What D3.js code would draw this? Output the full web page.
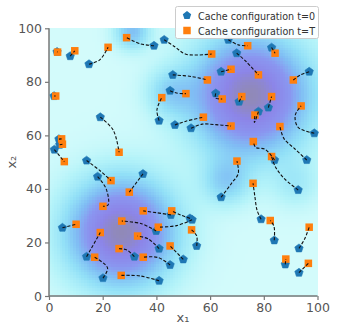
<!DOCTYPE html>
<html>
<head>
<meta charset="utf-8">
<script src="https://cdn.jsdelivr.net/npm/d3@7"></script>
<style>
  body { margin: 0; background: #fff; }
  text { font-family: "DejaVu Sans", sans-serif; }
</style>
</head>
<body>
<svg id="chart" width="339" height="326"></svg>
<script>
// start (t=0) and end (t=T) cache positions
const startX = [3.0, 7.9, 14.9, 39.1, 1.9, 19.1, 3.7, 4.0, 2.0, 14.0, 18.1, 35.0, 5.0, 14.0, 20.1, 31.8, 41.0, 39.9, 45.4, 52.5,
  53.3, 41.0, 50.0, 45.1, 55.0, 64.1, 92.8, 84.0, 79.0, 83.9, 93.1, 88.0, 93.1, 96.0, 98.8, 78.0, 81.7, 70.8, 96.9, 69.9,
  82.9, 66.8, 42.9, 46.1, 45.1, 41.0, 46.9, 52.9, 64.1, 62.1];
const startY = [91.2, 89.6, 86.6, 93.5, 74.7, 66.8, 58.6, 56.5, 54.7, 50.6, 44.6, 45.6, 25.5, 14.7, 6.7, 14.7, 5.7, 24.3, 30.3, 29.0,
  28.5, 17.7, 13.7, 11.6, 18.7, 36.9, 39.6, 50.8, 28.7, 20.8, 17.8, 11.8, 8.7, 50.8, 60.8, 68.9, 70.4, 72.6, 83.8, 90.7,
  92.8, 95.7, 95.7, 82.6, 76.7, 65.5, 63.9, 62.7, 83.8, 75.7];
const endX = [3.2, 9.6, 22.0, 28.9, 2.5, 26.1, 4.7, 5.0, 5.7, 23.1, 20.1, 29.9, 10.1, 19.1, 17.0, 26.1, 26.9, 27.1, 35.1, 45.7,
  40.7, 33.0, 45.1, 35.1, 53.1, 70.0, 82.9, 76.1, 76.0, 82.4, 96.9, 88.2, 96.6, 86.0, 93.9, 76.7, 82.9, 71.8, 91.0, 78.0,
  84.2, 74.0, 60.6, 59.0, 51.0, 42.0, 57.5, 67.8, 67.8, 64.5];
const endY = [91.1, 91.6, 92.9, 96.5, 74.7, 53.7, 58.7, 56.7, 50.2, 43.1, 33.5, 38.8, 26.8, 23.7, 14.5, 17.7, 7.7, 28.0, 31.8, 31.8,
  25.7, 22.4, 18.7, 14.5, 24.7, 50.4, 52.1, 57.7, 42.1, 28.2, 25.7, 13.8, 12.2, 63.3, 71.0, 67.6, 74.5, 74.5, 80.7, 82.6,
  90.7, 93.5, 90.4, 80.7, 75.6, 74.1, 66.8, 63.5, 84.7, 73.6];
// points the dashed paths bend through
const bends = [[], [], [[18.9, 88.2]], [[34.0, 94.2]], [], [[23.9, 62.0]], [], [], [], [[19.0, 46.8]],
  [[21.3, 40.0], [22.0, 34.0]], [], [], [], [[21.8, 10.5]], [[29.0, 17.2]], [[34.0, 7.5]], [[34.5, 27.0]], [[40.1, 31.1]], [[49.0, 30.3]],
  [[47.5, 26.3]], [[37.0, 21.3]], [], [[40.5, 14.4]], [[55.0, 22.5]], [[68.0, 42.1], [70.5, 45.8]], [[87.5, 44.0], [84.3, 48.3]],
  [[80.5, 54.8], [77.0, 55.5]], [[77.5, 32.0], [76.7, 37.0]], [[83.8, 26.0]], [[95.3, 21.5]], [], [],
  [[91.5, 55.0], [87.5, 58.8]], [[92.8, 63.0], [91.7, 67.5]], [[76.5, 64.8]], [], [], [[93.5, 82.5]], [[73.5, 87.5]],
  [], [[70.5, 93.8]], [[47.0, 93.0], [51.0, 90.3]], [[53.0, 82.0]], [[47.5, 75.8]], [[40.2, 69.5]], [[51.0, 65.3]],
  [[57.0, 64.2], [62.0, 64.0]], [], [[62.0, 74.0]]];

// demand hot spots behind the markers
const hotX = [27, 75, 31, 66, 45, 92];
const hotY = [24, 75, 99, 43, 76, 42];
const hotW = [1.0, 1.0, 0.4, 0.3, 0.25, 0.15];
const hotS = [13, 14.5, 4.5, 6, 6, 6];

const ticks = [0, 20, 40, 60, 80, 100];
const legendLabels = ["Cache configuration t=0", "Cache configuration t=T"];

const svg = d3.select("#chart");
const x = d3.scaleLinear().domain([0, 100]).range([49, 317.5]);
const y = d3.scaleLinear().domain([0, 100]).range([296, 28.3]);

function density(px, py) {
	let v = 0;
	for (let i = 0; i < hotX.length; i++) {
		const d2 = (px - hotX[i]) ** 2 + (py - hotY[i]) ** 2;
		v += hotW[i] * Math.exp(-d2 / (2 * hotS[i] * hotS[i]));
	}
	return Math.min(v, 1);
}

const color = d3.scaleLinear()
	.domain([0, 0.1, 0.25, 0.42, 0.6, 0.82, 1])
	.range(["#d3fbfb", "#b4f3f9", "#92e0f7", "#80bef4", "#8a96f0", "#8c85e8", "#9089b8"]);

const cells = [];
for (let i = 0; i < 100; i++) {
	for (let j = 0; j < 100; j++) {
		cells.push({ i: i, j: j, v: density(i + 0.5, j + 0.5) });
	}
}

svg.append("g")
	.attr("shape-rendering", "crispEdges")
	.selectAll("rect")
	.data(cells)
	.join("rect")
	.attr("x", d => x(d.i))
	.attr("y", d => y(d.j + 1))
	.attr("width", x(1) - x(0) + 0.5)
	.attr("height", y(0) - y(1) + 0.5)
	.attr("fill", d => color(d.v));

// axes
const axisColor = "#555";
const xAxis = svg.append("g")
	.attr("transform", `translate(0,${y(0)})`)
	.call(d3.axisBottom(x).tickValues(ticks).tickSize(4).tickPadding(3));
const yAxis = svg.append("g")
	.attr("transform", `translate(${x(0)},0)`)
	.call(d3.axisLeft(y).tickValues(ticks).tickSize(4).tickPadding(3));

for (let ax of [xAxis, yAxis]) {
	ax.select(".domain").attr("stroke", "#777").attr("stroke-width", 1.5);
	ax.selectAll(".tick line").attr("stroke", "#777").attr("stroke-width", 1.2);
	ax.selectAll(".tick text")
		.attr("fill", axisColor)
		.style("font-size", "12.5px")
		.style("font-family", "DejaVu Sans, sans-serif");
}
xAxis.select(".domain").attr("d", `M${x(0)},0H${x(100)}`);
yAxis.select(".domain").attr("d", `M0,${y(0)}V${y(100)}`);

svg.append("text")
	.attr("x", 183).attr("y", 322)
	.attr("text-anchor", "middle")
	.attr("fill", axisColor)
	.style("font-size", "13px")
	.text("x₁");
svg.append("text")
	.attr("transform", `translate(16,${y(50)}) rotate(-90)`)
	.attr("text-anchor", "middle")
	.attr("fill", axisColor)
	.style("font-size", "13px")
	.text("x₂");

// markers
function pentPath(r) {
	const pts = d3.range(5).map(k => {
		const a = -Math.PI / 2 + k * 2 * Math.PI / 5;
		return [r * Math.cos(a), r * Math.sin(a)];
	});
	return "M" + pts.join("L") + "Z";
}

svg.append("g").selectAll("path")
	.data(d3.range(startX.length))
	.join("path")
	.attr("d", pentPath(4.4))
	.attr("transform", i => `translate(${x(startX[i])},${y(startY[i])})`)
	.attr("fill", "#1f77b4")
	.attr("stroke", "#1f77b4")
	.attr("stroke-width", 0.6);

const sq = 7.5;
svg.append("g").selectAll("rect")
	.data(d3.range(endX.length))
	.join("rect")
	.attr("x", i => x(endX[i]) - sq / 2)
	.attr("y", i => y(endY[i]) - sq / 2)
	.attr("width", sq)
	.attr("height", sq)
	.attr("fill", "#ff7f0e");

const line = d3.line()
	.x(d => x(d[0]))
	.y(d => y(d[1]))
	.curve(d3.curveCatmullRom.alpha(0.5));

svg.append("g").selectAll("path")
	.data(d3.range(startX.length))
	.join("path")
	.attr("d", i => line([[startX[i], startY[i]], ...bends[i], [endX[i], endY[i]]]))
	.attr("fill", "none")
	.attr("stroke", "#111")
	.attr("stroke-width", 1.1)
	.attr("stroke-dasharray", "3.2,1.8");

// legend
const legend = svg.append("g");
legend.append("rect")
	.attr("x", 175.5).attr("y", 6.5)
	.attr("width", 143).attr("height", 32)
	.attr("rx", 2)
	.attr("fill", "#fff")
	.attr("fill-opacity", 0.92)
	.attr("stroke", "#ccc");
legend.append("path")
	.attr("d", pentPath(4.4))
	.attr("transform", "translate(187,15.5)")
	.attr("fill", "#1f77b4");
legend.append("rect")
	.attr("x", 187 - sq / 2).attr("y", 30.5 - sq / 2)
	.attr("width", sq).attr("height", sq)
	.attr("fill", "#ff7f0e");
legend.selectAll("text")
	.data(legendLabels)
	.join("text")
	.attr("x", 198)
	.attr("y", (d, i) => 19.5 + i * 15)
	.attr("fill", "#333")
	.attr("textLength", 117)
	.attr("lengthAdjust", "spacingAndGlyphs")
	.style("font-size", "10.5px")
	.text(d => d);
</script>
</body>
</html>
